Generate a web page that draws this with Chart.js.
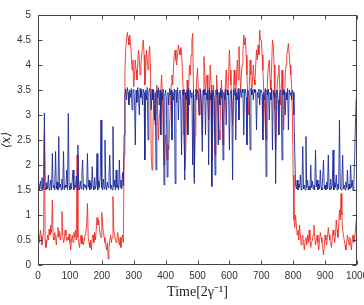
<!DOCTYPE html>
<html>
<head>
<meta charset="utf-8">
<script src="https://cdn.jsdelivr.net/npm/chart.js@4"></script>
<style>
  html, body { margin: 0; padding: 0; background: #fff; }
  #wrap { width: 364px; height: 305px; }
</style>
</head>
<body>
<div id="wrap"><canvas id="myChart" width="364" height="305"></canvas></div>
<script>
// sampling step of the traces, in units of 2/gamma
const timeStep = 2.5;

// <x> for the blue trace, t = 0, 2.5, ..., 1000
const blueValues = [
  1.55, 1.62, 1.5, 1.68, 1.52, 1.75, 1.5, 1.6, 3.04, 1.55,
  1.5, 1.65, 1.52, 1.8, 1.5, 1.58, 1.7, 1.5, 2.23, 1.55,
  1.6, 1.5, 2.27, 1.52, 1.66, 1.5, 2.57, 1.55, 1.62, 1.5,
  1.72, 1.52, 2.27, 1.5, 1.6, 1.55, 1.9, 1.5, 3.03, 1.58,
  1.5, 1.64, 1.52, 1.7, 1.9, 1.5, 1.6, 1.55, 1.78, 1.5,
  2.4, 1.56, 1.5, 1.68, 1.52, 1.85, 2.1, 1.5, 1.62, 1.55,
  1.6, 1.5, 2.23, 1.55, 1.7, 1.5, 1.65, 1.52, 1.97, 1.58,
  1.5, 1.75, 1.52, 1.6, 2.23, 1.5, 1.68, 1.55, 1.8, 2.9,
  1.55, 1.5, 1.72, 1.52, 2.5, 1.6, 1.5, 1.66, 1.55, 1.8,
  2.2, 1.52, 1.6, 1.5, 2.77, 1.56, 1.7, 1.5, 1.9, 1.55,
  1.6, 1.5, 2.1, 1.55, 1.7, 1.52, 1.85, 1.58, 2.6, 3.4,
  3.52, 3.3, 3.55, 3.45, 3.2, 3.5, 3.35, 3.53, 3.1, 3.48,
  3.52, 3.3, 2.4, 3.5, 3.25, 3.55, 3.4, 3.0, 3.53, 3.35,
  3.5, 3.2, 3.52, 3.45, 2.1, 3.5, 3.3, 3.55, 2.5, 3.45,
  3.53, 3.4, 3.1, 3.52, 3.3, 3.5, 2.9, 3.45, 1.9, 3.5,
  3.35, 3.55, 3.2, 3.5, 2.6, 3.45, 3.3, 3.52, 1.6, 3.4,
  3.5, 3.3, 1.76, 3.45, 3.2, 3.53, 3.4, 3.5, 2.5, 3.45,
  3.3, 3.52, 1.63, 3.5, 3.25, 3.55, 2.9, 3.45, 3.5, 3.3,
  2.2, 3.5, 3.4, 3.52, 1.7, 3.45, 3.3, 3.5, 2.6, 3.53,
  3.2, 3.5, 3.35, 3.45, 2.0, 3.5, 1.63, 3.4, 3.52, 3.3,
  3.5, 3.35, 3.0, 3.53, 3.45, 3.2, 2.27, 3.5, 3.4, 3.52,
  2.6, 3.45, 3.3, 3.5, 2.0, 3.53, 3.3, 3.45, 1.57, 3.5,
  3.45, 3.3, 1.8, 3.5, 3.4, 3.52, 2.4, 3.45, 3.2, 3.53,
  3.35, 3.5, 2.1, 3.45, 3.3, 3.52, 2.8, 3.5, 3.4, 3.45,
  2.3, 3.45, 3.5, 3.3, 1.7, 3.5, 3.4, 3.53, 2.5, 3.45,
  3.3, 3.53, 2.9, 3.4, 3.5, 3.35, 3.52, 3.45, 2.6, 3.5,
  3.52, 3.35, 2.4, 3.5, 3.45, 3.3, 2.3, 3.53, 3.4, 3.5,
  3.3, 3.52, 3.45, 3.5, 2.7, 3.45, 3.35, 3.52, 3.2, 3.5,
  3.5, 3.4, 2.5, 3.45, 3.3, 3.53, 1.77, 3.5, 3.4, 3.52,
  2.9, 3.45, 3.3, 3.53, 2.3, 3.5, 3.35, 3.45, 1.63, 3.5,
  3.5, 3.3, 2.6, 3.45, 3.5, 3.35, 2.1, 3.52, 3.4, 3.5,
  3.0, 3.45, 3.3, 3.53, 2.7, 3.5, 3.4, 3.45, 3.3, 3.5,
  3.45, 3.0, 2.2, 1.6, 1.52, 1.7, 1.5, 1.62, 1.55, 1.8,
  1.5, 1.65, 2.37, 1.52, 1.6, 1.5, 2.57, 1.55, 1.7, 1.5,
  1.58, 1.5, 2.0, 1.55, 1.68, 1.52, 1.6, 1.5, 2.3, 1.56,
  1.7, 1.5, 1.62, 1.52, 1.9, 1.55, 1.5, 1.75, 2.1, 1.52,
  1.6, 1.5, 1.66, 1.52, 2.2, 1.55, 1.5, 1.72, 1.52, 1.6,
  2.3, 1.5, 1.65, 1.55, 1.8, 1.5, 1.62, 1.52, 2.9, 1.56,
  1.5, 1.7, 2.2, 1.52, 1.6, 1.5, 1.66, 1.55, 1.9, 1.5,
  1.62, 1.52, 2.0, 1.55, 1.7, 1.5, 1.6, 2.1, 2.8, 3.3,
  3.5
];

// <x> for the red trace, t = 0, 2.5, ..., 1000
const redValues = [
  0.5, 0.62, 0.45, 0.7, 0.58, 0.4, 0.55, 0.65, 2.6, 0.5,
  0.35, 0.45, 0.6, 0.5, 0.72, 0.6, 0.8, 0.65, 1.3, 0.55,
  0.5, 0.65, 0.55, 0.4, 0.6, 0.75, 0.55, 0.68, 0.5, 0.62,
  1.07, 0.6, 0.45, 0.52, 0.7, 0.6, 0.48, 0.55, 0.5, 0.62,
  0.45, 0.3, 0.5, 0.6, 0.45, 0.65, 0.55, 0.7, 0.5, 2.2,
  0.55, 0.45, 0.35, 0.5, 0.6, 0.42, 0.55, 0.4, 0.5, 0.6,
  0.65, 0.8, 1.23, 0.55, 0.45, 0.35, 0.5, 0.3, 0.55, 0.6,
  0.45, 0.65, 0.5, 0.7, 0.95, 0.8, 0.9, 0.75, 0.6, 0.55,
  1.05, 0.8, 0.65, 0.55, 0.45, 0.4, 0.3, 0.45, 0.12, 0.35,
  0.5, 0.6, 0.45, 0.55, 1.37, 0.7, 0.6, 0.5, 0.45, 0.55,
  0.65, 0.5, 0.4, 0.55, 0.35, 0.5, 0.6, 0.45, 2.2, 3.9,
  4.3, 4.5, 4.65, 4.55, 4.4, 4.6, 4.45, 4.2, 3.9, 4.1,
  3.56, 3.8, 4.1, 3.9, 3.7, 4.0, 4.3, 4.1, 3.8, 4.0,
  4.2, 4.35, 4.5, 4.2, 3.6, 3.9, 4.3, 4.1, 3.9, 4.2,
  4.37, 4.0, 2.2, 1.9, 2.6, 3.4, 3.0, 2.8, 3.3, 3.6,
  3.2, 2.5, 2.9, 3.1, 3.5, 3.8, 3.4, 2.6, 2.0, 2.4,
  2.6, 2.3, 2.1, 2.4, 2.3, 2.8, 3.2, 3.6, 3.8, 3.6,
  4.0, 4.2, 4.3, 4.1, 4.0, 4.2, 4.4, 4.3, 4.2, 4.35,
  4.3, 3.9, 3.5, 2.6, 1.9, 2.1, 2.8, 3.7, 3.2, 3.6,
  4.0, 3.8, 4.2, 4.5, 4.63, 3.4, 1.76, 2.6, 3.3, 3.7,
  3.94, 3.5, 3.0, 3.3, 3.5, 3.1, 2.6, 3.4, 4.17, 3.9,
  3.4, 3.7, 3.8, 3.3, 2.9, 3.5, 4.0, 3.6, 2.1, 2.6,
  3.6, 3.2, 2.2, 2.8, 3.8, 3.5, 3.1, 2.7, 2.5, 3.2,
  3.7, 3.3, 2.4, 2.9, 3.3, 3.6, 3.9, 3.5, 3.4, 3.8,
  4.3, 3.9, 3.6, 3.2, 2.8, 3.4, 3.9, 3.6, 3.3, 3.8,
  4.1, 3.7, 4.37, 3.9, 3.5, 3.8, 4.0, 4.3, 4.6, 4.4,
  4.55, 4.2, 3.8, 3.4, 3.0, 3.6, 4.1, 3.8, 3.4, 3.7,
  4.0, 3.7, 3.6, 4.0, 4.3, 4.1, 4.4, 4.2, 4.7, 4.5,
  4.5, 4.2, 3.9, 3.5, 3.2, 2.8, 2.5, 3.2, 3.8, 4.0,
  4.1, 3.7, 3.5, 4.0, 4.5, 4.4, 4.0, 3.1, 2.3, 2.9,
  3.6, 3.8, 4.0, 3.6, 3.2, 3.5, 3.9, 3.4, 2.7, 3.2,
  3.8, 4.0, 4.2, 4.3, 4.43, 4.2, 4.0, 3.8, 3.6, 3.0,
  1.8, 0.9, 0.75, 1.0, 0.8, 0.6, 0.7, 0.5, 0.8, 0.6,
  0.4, 0.55, 0.6, 0.45, 0.3, 0.5, 0.55, 0.4, 0.6, 0.45,
  0.7, 0.5, 0.35, 0.45, 0.5, 0.6, 0.8, 0.55, 0.4, 0.5,
  0.6, 0.45, 0.3, 0.5, 0.65, 0.55, 0.45, 0.35, 0.2, 0.4,
  0.6, 0.5, 0.4, 0.55, 0.75, 0.6, 0.5, 0.45, 0.35, 0.55,
  0.7, 0.6, 0.45, 0.6, 0.9, 0.7, 0.55, 0.8, 1.1, 0.9,
  1.43, 1.0, 0.7, 0.6, 0.5, 0.4, 0.3, 0.45, 0.6, 0.5,
  0.4, 0.55, 0.45, 0.3, 0.5, 0.6, 0.45, 0.5, 0.7, 0.9,
  1.0
];

const xTicks = [0, 100, 200, 300, 400, 500, 600, 700, 800, 900, 1000];
const yTicks = [0, 0.5, 1, 1.5, 2, 2.5, 3, 3.5, 4, 4.5, 5];

const toPoints = vals => vals.map((v, i) => ({ x: i * timeStep, y: v }));

// box round the plot with small ticks pointing inwards
const framePlugin = {
  id: 'frame',
  afterDatasetsDraw(chart) {
    const { ctx, chartArea: a, scales: { x, y } } = chart;
    ctx.save();
    ctx.strokeStyle = '#444';
    ctx.lineWidth = 1;
    const L = Math.round(a.left) + 0.5, R = Math.round(a.right) - 0.5;
    const T = Math.round(a.top) + 0.5, B = Math.round(a.bottom) - 0.5;
    ctx.strokeRect(L, T, R - L, B - T);
    ctx.beginPath();
    xTicks.forEach(t => {
      const px = Math.round(x.getPixelForValue(t)) + 0.5;
      ctx.moveTo(px, B); ctx.lineTo(px, B - 4);
      ctx.moveTo(px, T); ctx.lineTo(px, T + 4);
    });
    yTicks.forEach(t => {
      const py = Math.round(y.getPixelForValue(t)) + 0.5;
      ctx.moveTo(L, py); ctx.lineTo(L + 4, py);
      ctx.moveTo(R, py); ctx.lineTo(R - 4, py);
    });
    ctx.stroke();
    ctx.restore();
  }
};

const ctx = document.getElementById('myChart').getContext('2d');
const chart = new Chart(ctx, {
  type: 'line',
  data: {
    datasets: [
      {
        label: 'blue',
        data: toPoints(blueValues),
        borderColor: 'rgba(22, 38, 150, 0.85)',
        borderWidth: 1,
        pointRadius: 0,
        fill: false
      },
      {
        label: 'red',
        data: toPoints(redValues),
        borderColor: 'rgba(240, 40, 30, 0.85)',
        borderWidth: 1,
        pointRadius: 0,
        fill: false
      }
    ]
  },
  options: {
    responsive: false,
    animation: false,
    layout: { padding: { top: 15, right: 7, left: 0, bottom: 0 } },
    plugins: { legend: { display: false }, tooltip: { enabled: false } },
    scales: {
      x: {
        type: 'linear',
        min: 0, max: 1000,
        grid: { display: false, drawTicks: false },
        border: { display: false },
        afterBuildTicks: s => { s.ticks = xTicks.map(v => ({ value: v })); },
        afterFit: s => { s.height = 40; s.paddingLeft = 0; s.paddingRight = 0; },
        ticks: {
          padding: 5, maxRotation: 0, autoSkip: false,
          callback: v => String(v),
          color: '#333', font: { family: 'Liberation Sans', size: 10 }
        },
        title: {
          display: true,
          text: 'Time[2γ⁻¹]',
          color: '#222',
          font: { family: 'Liberation Serif', size: 14 },
          padding: { top: 0, bottom: 4 }
        }
      },
      y: {
        min: 0, max: 5,
        grid: { display: false, drawTicks: false },
        border: { display: false },
        afterBuildTicks: s => { s.ticks = yTicks.map(v => ({ value: v })); },
        afterFit: s => { s.width = 38; s.paddingTop = 0; s.paddingBottom = 0; },
        ticks: {
          padding: 7,
          callback: v => String(v),
          color: '#333', font: { family: 'Liberation Sans', size: 10 }
        },
        title: {
          display: true,
          text: '⟨x⟩',
          color: '#222',
          font: { family: 'DejaVu Serif', size: 12, style: 'italic' },
          padding: 0
        }
      }
    }
  },
  plugins: [framePlugin]
});
</script>
</body>
</html>
